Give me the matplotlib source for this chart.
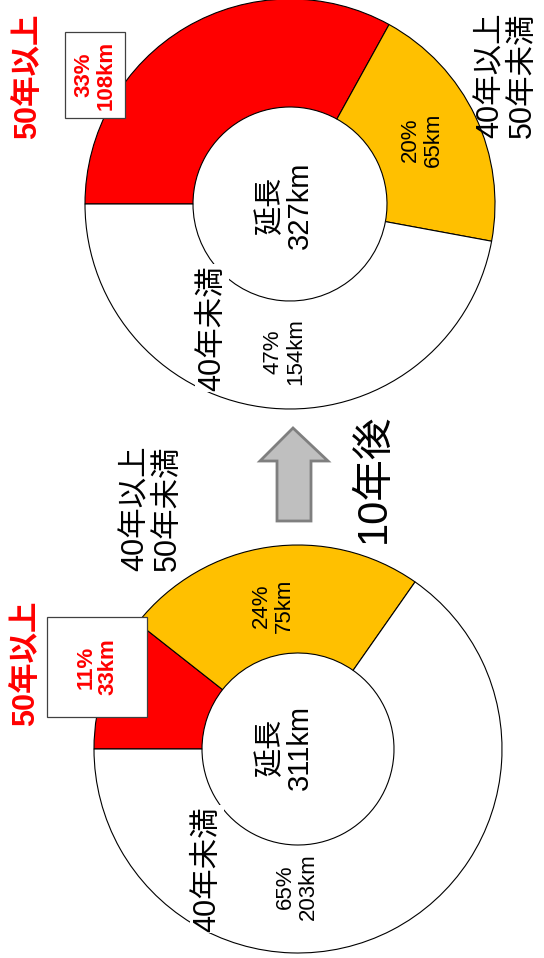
import matplotlib.pyplot as plt
from matplotlib.patches import Polygon, Rectangle

plt.rcParams['font.family'] = ['Liberation Sans', 'Noto Sans CJK JP']

# age classes (clockwise from the start of each ring)
categories = ['50年以上', '40年以上\n50年未満', '40年未満']
colors = ['#FF0000', '#FFC000', '#FFFFFF']

# lengths in km: now and 10 years later
now_km = [33, 75, 203]
later_km = [108, 65, 154]

W, H = 544, 958
fig = plt.figure(figsize=(W / 100, H / 100), dpi=100)
ax = fig.add_axes([0, 0, 1, 1])


def donut(km, cx, cy, r, ri):
    ax.pie(km, colors=colors, center=(cx, cy), radius=r, startangle=180,
           counterclock=True,
           wedgeprops=dict(width=r - ri, edgecolor='black', linewidth=0.8))


def rtext(x, y, s, size, color='black', weight='normal', **kw):
    ax.text(x, y, s, rotation=90, ha='center', va='center', fontsize=size,
            color=color, fontweight=weight, multialignment='center',
            linespacing=1.1, zorder=5, **kw)


def labels(km, pos, box, cls_pos, center_pos):
    total = sum(km)
    pct = [round(v / total * 100) for v in km]
    txt = [f'{p}%\n{v}km' for p, v in zip(pct, km)]
    # red segment label in a box
    bx, by, bw, bh = box
    ax.add_patch(Rectangle((bx, by), bw, bh, facecolor='white',
                           edgecolor='#404040', linewidth=0.9, zorder=4))
    rtext(bx + bw / 2, by + bh / 2, txt[0], 16, color='#FF0000', weight='bold')
    rtext(*pos[0], txt[1], 16)
    rtext(*pos[1], txt[2], 16)
    # class names
    rtext(*cls_pos[0], categories[0], 22, color='#FF0000', weight='bold')
    rtext(*cls_pos[1], categories[1], 22)
    rtext(*cls_pos[2], categories[2], 22,
          bbox=dict(facecolor='white', edgecolor='none', pad=1))
    rtext(*center_pos, f'延長\n{total}km', 21)


# later (top) ring
donut(later_km, 290, 204, 205, 97)
# now (bottom) ring
donut(now_km, 298, 749, 204, 96)

labels(later_km, [(422, 140), (284, 352)], (65, 32, 60, 86),
       [(28, 76), (507, 75), (212, 328)], (285, 205))
labels(now_km, [(273, 606), (297, 887)], (47, 617, 100, 100),
       [(26, 663), (152, 508), (207, 869)], (285, 747))

# arrow "10 years later"
arrow = [(293, 428), (328, 461), (311, 461), (311, 521), (277, 521),
         (277, 461), (260, 461)]
ax.add_patch(Polygon(arrow, closed=True, facecolor='#BFBFBF',
                     edgecolor='#7F7F7F', linewidth=2, zorder=4))
rtext(374, 478, '10年後', 30)

ax.set_xlim(0, W)
ax.set_ylim(H, 0)
ax.set_aspect('equal')
ax.axis('off')

fig.savefig('out.png', dpi=100, facecolor='white')
